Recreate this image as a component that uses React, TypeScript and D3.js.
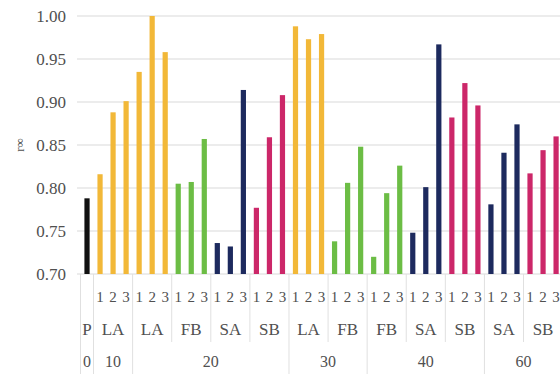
import React from "react";
import * as d3 from "d3";

// bar groups, left to right
const groupTop = ["0", "10", "20", "20", "20", "20", "30", "30", "40", "40", "40", "60", "60"];
const groupNames = ["P", "LA", "LA", "FB", "SA", "SB", "LA", "FB", "FB", "SA", "SB", "SA", "SB"];
const subLabels = ["1", "2", "3"];
const groupValues = [
  [0.788],
  [0.816, 0.888, 0.901],
  [0.935, 1.0, 0.958],
  [0.805, 0.807, 0.857],
  [0.736, 0.732, 0.914],
  [0.777, 0.859, 0.908],
  [0.988, 0.973, 0.979],
  [0.738, 0.806, 0.848],
  [0.72, 0.794, 0.826],
  [0.748, 0.801, 0.967],
  [0.882, 0.922, 0.896],
  [0.781, 0.841, 0.874],
  [0.817, 0.844, 0.86],
];
const yTicks = [0.7, 0.75, 0.8, 0.85, 0.9, 0.95, 1.0];

const colors: Record<string, string> = {
  P: "#111111",
  LA: "#f2b838",
  FB: "#6cbd45",
  SA: "#1d2a5e",
  SB: "#cc2769",
};

const W = 560,
  H = 374;
const left = 80.5,
  right = 562.6,
  top = 16,
  bottom = 274;
const textColor = "#505050";
const font = "Liberation Serif, DejaVu Serif, serif";

export default function App() {
  // flatten groups into slots
  const slots: { g: number; v: number; sub: string }[] = [];
  groupValues.forEach((vals, g) => {
    vals.forEach((v, i) => {
      slots.push({ g, v, sub: g === 0 ? "" : subLabels[i] });
    });
  });

  const x = d3
    .scaleBand<number>()
    .domain(slots.map((d, i) => i))
    .range([left, right])
    .paddingInner(0.6)
    .paddingOuter(0.3);
  const step = x.step();
  const cx = (i: number) => (x(i) as number) + x.bandwidth() / 2;

  const y = d3.scaleLinear().domain([0.7, 1.0]).range([bottom, top]);

  // group spans
  const groupStart: number[] = [];
  let k = 0;
  groupValues.forEach((vals) => {
    groupStart.push(k);
    k += vals.length;
  });
  const groupEnd = groupStart.map((s, g) => s + groupValues[g].length - 1);

  // top level spans
  const topKeys = Array.from(new Set(groupTop));
  const topSpans = topKeys.map((t) => {
    const gs = groupTop.map((d, i) => (d === t ? i : -1)).filter((i) => i >= 0);
    return { t, s: groupStart[gs[0]], e: groupEnd[gs[gs.length - 1]] };
  });

  const boundary = (i: number) => cx(i) - step / 2;

  return (
    <svg
      width={W}
      height={H}
      style={{ position: "absolute", left: 0, top: 0, background: "#fff", fontFamily: font }}
    >
      {/* grid */}
      {yTicks.map((t) => (
        <line
          key={t}
          x1={77}
          x2={W}
          y1={y(t)}
          y2={y(t)}
          stroke="#d9d9d9"
          strokeWidth={1}
        />
      ))}
      {yTicks.map((t) => (
        <text
          key={"l" + t}
          x={66}
          y={y(t)}
          dy="0.35em"
          textAnchor="end"
          fontSize={17}
          fill={textColor}
        >
          {d3.format(".2f")(t)}
        </text>
      ))}
      <text
        transform={`translate(24,${y(0.85)}) rotate(-90)`}
        textAnchor="middle"
        fontSize={13}
        fill={textColor}
      >
        r∞
      </text>

      {/* bars */}
      {slots.map((d, i) => (
        <rect
          key={i}
          x={x(i)}
          width={x.bandwidth()}
          y={y(d.v)}
          height={bottom - y(d.v)}
          fill={colors[groupNames[d.g]]}
        />
      ))}

      {/* category separators */}
      {groupStart.map((s, g) => {
        const full = g === 0 || groupTop[g] !== groupTop[g - 1];
        return (
          <line
            key={"s" + g}
            x1={boundary(s)}
            x2={boundary(s)}
            y1={bottom}
            y2={full ? H : 342}
            stroke="#e0e0e0"
          />
        );
      })}

      {/* sub labels */}
      {slots.map((d, i) => (
        <text
          key={"d" + i}
          x={cx(i)}
          y={302}
          textAnchor="middle"
          fontSize={15}
          fill={textColor}
        >
          {d.sub}
        </text>
      ))}
      {groupNames.map((n, g) => (
        <text
          key={"n" + g}
          x={(cx(groupStart[g]) + cx(groupEnd[g])) / 2}
          y={335}
          textAnchor="middle"
          fontSize={17}
          fill={textColor}
        >
          {n}
        </text>
      ))}
      {topSpans.map((sp) => (
        <text
          key={"t" + sp.t}
          x={(cx(sp.s) + cx(sp.e)) / 2}
          y={367}
          textAnchor="middle"
          fontSize={16}
          fill={textColor}
        >
          {sp.t}
        </text>
      ))}
    </svg>
  );
}
